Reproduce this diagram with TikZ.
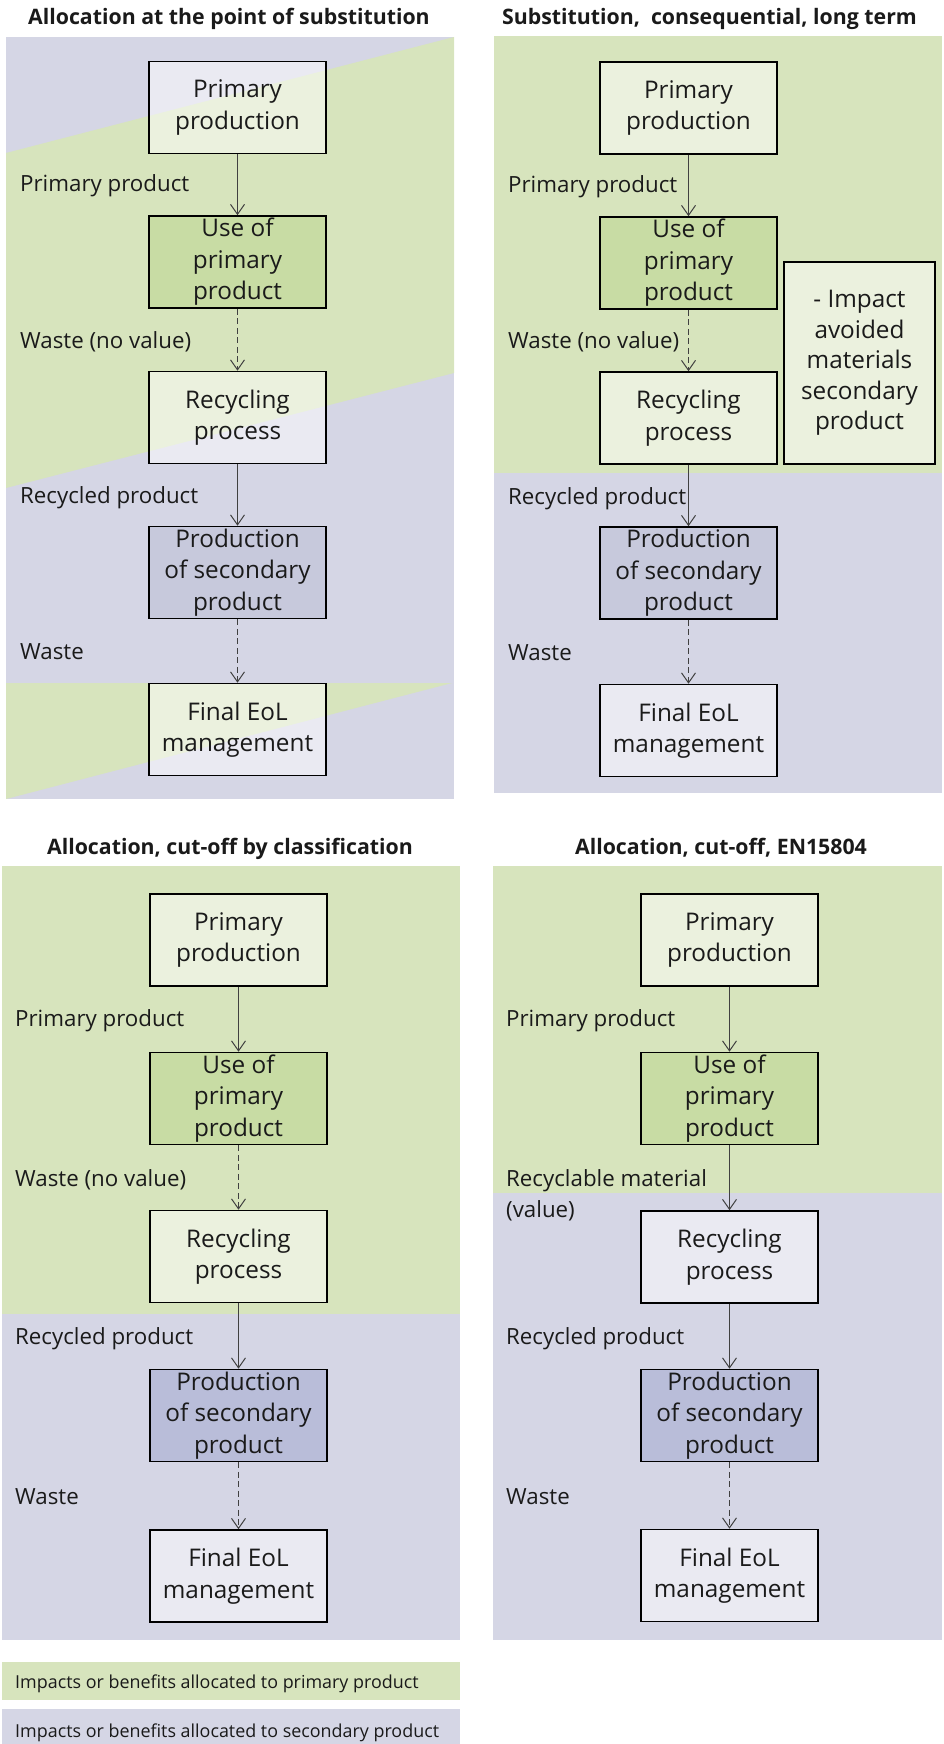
\documentclass[tikz,border=0pt]{standalone}
\usepackage{fontspec}
\setmainfont{Open Sans}
\usetikzlibrary{arrows.meta}

\definecolor{bggreen}{HTML}{D7E4BD}
\definecolor{bglilac}{HTML}{D5D6E5}
\definecolor{usegreen}{HTML}{C8DCA4}
\definecolor{seclilac}{HTML}{C7C9DC}
\definecolor{seclilacdark}{HTML}{B9BDD9}
\definecolor{ink}{HTML}{1A1A1A}
\definecolor{arrowgray}{HTML}{404040}

\tikzset{
  box/.style={draw=black, line width=1.6pt, inner sep=0pt,
              minimum width=177pt, minimum height=92pt},
  lightbox/.style={box, fill=white, fill opacity=0.5, draw opacity=1},
  usebox/.style={box, fill=usegreen},
  secbox/.style={box, fill=seclilac},
  secboxdark/.style={box, fill=seclilacdark},
  btext/.style={align=center, text=ink, inner sep=0pt,
                font=\fontsize{24.3}{31.5}\selectfont},
  flowlabel/.style={anchor=base west, text=ink, inner sep=0pt,
                    font=\fontsize{22.3}{31}\selectfont},
  paneltitle/.style={anchor=base, text=ink, inner sep=0pt,
                     font=\bfseries\fontsize{21.3}{25}\selectfont},
  legendtext/.style={anchor=base west, text=ink, inner sep=0pt,
                     font=\fontsize{17.9}{21}\selectfont},
  flow/.style={draw=arrowgray, line width=1pt,
               -{Straight Barb[length=10pt,width=14pt]}},
  flowdashed/.style={flow, dash pattern=on 6pt off 3.5pt}
}

\begin{document}
\begin{tikzpicture}[x=1pt, y=-1pt]
\useasboundingbox (0,0) rectangle (944,1744);

% ---------- backgrounds ----------
% panel 1: diagonal bands
\fill[bglilac] (6,37) rectangle (454,799);
\fill[bggreen] (6,153) -- (454,37) -- (454,373) -- (6,488) -- cycle;
\fill[bggreen] (6,683) -- (452,683) -- (6,799) -- cycle;
% panel 2
\fill[bggreen] (494,36) rectangle (942,473);
\fill[bglilac] (494,473) rectangle (942,793);
% panel 3
\fill[bggreen] (2,866) rectangle (460,1314);
\fill[bglilac] (2,1314) rectangle (460,1640);
% panel 4
\fill[bggreen] (493,866) rectangle (942,1193);
\fill[bglilac] (493,1193) rectangle (942,1640);
% legend bars
\fill[bggreen] (2,1662) rectangle (460,1700);
\fill[bglilac] (2,1709) rectangle (460,1744);

% ---------- titles ----------
\node[paneltitle] (t1) at (229,25) {Allocation at the point of substitution};
\node[paneltitle] (t2) at (709.5,25) {Substitution,\ \ consequential, long term};
\node[paneltitle] (t3) at (230,854) {Allocation, cut-off by classification};
\node[paneltitle] (t4) at (721,854) {Allocation, cut-off, EN15804};

% ---------- panel 1 ----------
\node[lightbox] (a1) at (237.5,107.5) {};
\node[usebox]   (a2) at (237.5,262) {};
\node[lightbox] (a3) at (237.5,417.5) {};
\node[secbox]   (a4) at (237.5,572.5) {};
\node[lightbox] (a5) at (237.5,729.5) {};
\node[btext] (a1t) at (a1) {Primary\\production};
\node[btext] (a2t) at (a2) {Use of\\primary\\product};
\node[btext] (a3t) at (a3) {Recycling\\process};
\node[btext] (a4t) at (a4) {Production\\of secondary\\product};
\node[btext] (a5t) at (a5) {Final EoL\\management};
\draw[flow]       (a1) -- (a2);
\draw[flowdashed] (a2) -- (a3);
\draw[flow]       (a3) -- (a4);
\draw[flowdashed] (a4) -- (a5);
\node[flowlabel] (al1) at (20,192) {Primary product};
\node[flowlabel] (al2) at (20,348) {Waste (no value)};
\node[flowlabel] (al3) at (20,503) {Recycled product};
\node[flowlabel] (al4) at (20,659) {Waste};

% ---------- panel 2 ----------
\node[lightbox] (b1) at (688.5,108) {};
\node[usebox]   (b2) at (688.5,263) {};
\node[lightbox] (b3) at (688.5,418) {};
\node[secbox]   (b4) at (688.5,573) {};
\node[lightbox] (b5) at (688.5,730.5) {};
\node[lightbox, minimum width=151pt, minimum height=202pt] (b6) at (859.5,363) {};
\node[btext] (b1t) at (b1) {Primary\\production};
\node[btext] (b2t) at (b2) {Use of\\primary\\product};
\node[btext] (b3t) at (b3) {Recycling\\process};
\node[btext] (b4t) at (b4) {Production\\of secondary\\product};
\node[btext] (b5t) at (b5) {Final EoL\\management};
\node[btext, font=\fontsize{24.3}{30.5}\selectfont] (b6t) at (b6)
  {- Impact\\avoided\\materials\\secondary\\product};
\draw[flow]       (b1) -- (b2);
\draw[flowdashed] (b2) -- (b3);
\draw[flow]       (b3) -- (b4);
\draw[flowdashed] (b4) -- (b5);
\node[flowlabel] (bl1) at (508,193) {Primary product};
\node[flowlabel] (bl2) at (508,348) {Waste (no value)};
\node[flowlabel] (bl3) at (508,504) {Recycled product};
\node[flowlabel] (bl4) at (508,660) {Waste};

% ---------- panel 3 ----------
\node[lightbox]   (c1) at (238.5,940) {};
\node[usebox]     (c2) at (238.5,1098.5) {};
\node[lightbox]   (c3) at (238.5,1256.5) {};
\node[secboxdark] (c4) at (238.5,1415.5) {};
\node[lightbox]   (c5) at (238.5,1576) {};
\node[btext] (c1t) at (c1) {Primary\\production};
\node[btext] (c2t) at (c2) {Use of\\primary\\product};
\node[btext] (c3t) at (c3) {Recycling\\process};
\node[btext] (c4t) at (c4) {Production\\of secondary\\product};
\node[btext] (c5t) at (c5) {Final EoL\\management};
\draw[flow]       (c1) -- (c2);
\draw[flowdashed] (c2) -- (c3);
\draw[flow]       (c3) -- (c4);
\draw[flowdashed] (c4) -- (c5);
\node[flowlabel] (cl1) at (15,1026) {Primary product};
\node[flowlabel] (cl2) at (15,1186) {Waste (no value)};
\node[flowlabel] (cl3) at (15,1344) {Recycled product};
\node[flowlabel] (cl4) at (15,1504) {Waste};

% ---------- panel 4 ----------
\node[lightbox]   (d1) at (729.5,940) {};
\node[usebox]     (d2) at (729.5,1098.5) {};
\node[lightbox]   (d3) at (729.5,1257) {};
\node[secboxdark] (d4) at (729.5,1415.5) {};
\node[lightbox]   (d5) at (729.5,1575.5) {};
\node[btext] (d1t) at (d1) {Primary\\production};
\node[btext] (d2t) at (d2) {Use of\\primary\\product};
\node[btext] (d3t) at (d3) {Recycling\\process};
\node[btext] (d4t) at (d4) {Production\\of secondary\\product};
\node[btext] (d5t) at (d5) {Final EoL\\management};
\draw[flow]       (d1) -- (d2);
\draw[flow]       (d2) -- (d3);
\draw[flow]       (d3) -- (d4);
\draw[flowdashed] (d4) -- (d5);
\node[flowlabel] (dl1) at (506,1026) {Primary product};
\node[flowlabel] (dl2) at (506,1186) {Recyclable material};
\node[flowlabel] (dl2b) at (506,1217) {(value)};
\node[flowlabel] (dl3) at (506,1344) {Recycled product};
\node[flowlabel] (dl4) at (506,1504) {Waste};

% ---------- legend ----------
\node[legendtext] (lg1) at (15,1688) {Impacts or benefits allocated to primary product};
\node[legendtext] (lg2) at (15,1737) {Impacts or benefits allocated to secondary product};
\end{tikzpicture}
\end{document}
